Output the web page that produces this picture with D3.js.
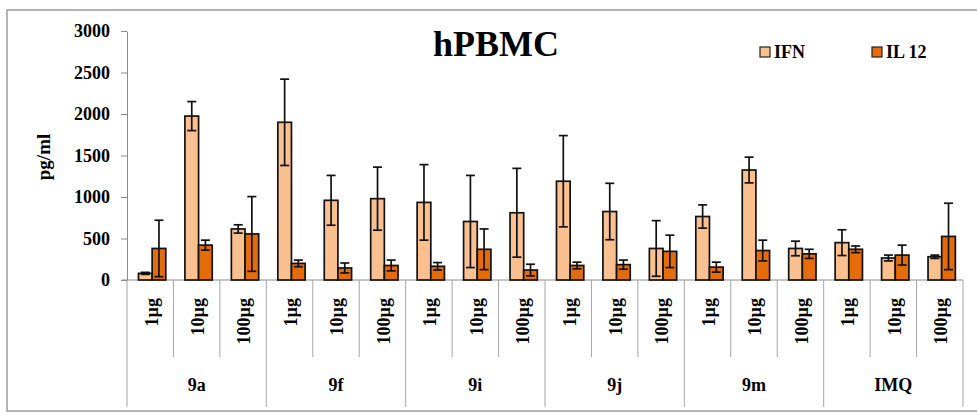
<!DOCTYPE html>
<html>
<head>
<meta charset="utf-8">
<script src="https://cdn.jsdelivr.net/npm/d3@7"></script>
<style>
  body { margin: 0; background: #fff; }
  svg { display: block; }
  text { font-family: 'Liberation Serif', 'Times New Roman', serif; font-weight: bold; fill: #000; }
</style>
</head>
<body>
<div class="graphic_container"></div>
<script>
// data
const groups = ['9a', '9f', '9i', '9j', '9m', 'IMQ'];
const doses = ['1µg', '10µg', '100µg'];
const seriesNames = ['IFN', 'IL 12'];
const seriesColors = ['#fac090', '#e46c0a'];

// one value per group x dose, in order
const ifnValues  = [80, 1975, 615,  1900, 960, 980,  935, 705, 810,  1190, 825, 380,  765, 1325, 380,  450, 265, 280];
const ifnErrors  = [12, 175, 50,    520, 300, 380,   455, 555, 535,  550, 340, 335,   140, 155, 88,    155, 35, 20];
const il12Values = [380, 420, 555,  200, 145, 175,   165, 370, 120,  175, 185, 345,   155, 355, 315,   370, 300, 525];
const il12Errors = [340, 60, 450,   40, 60, 65,      45, 245, 70,    40, 55, 195,     60, 125, 55,     40, 120, 400];

const yTicks = [0, 500, 1000, 1500, 2000, 2500, 3000];

const width = 977, height = 416;

const svg = d3.select('.graphic_container')
  .append('svg')
  .attr('width', width)
  .attr('height', height);

//outer frame
svg.append('rect')
  .attr('x', 7)
  .attr('y', 10)
  .attr('width', 985)
  .attr('height', 401)
  .attr('fill', 'none')
  .attr('stroke', '#9a9a9a')
  .attr('stroke-width', 1.5);

const plot = {left: 127, right: 963, top: 31, bottom: 280};

const categories = [];
groups.forEach(g => doses.forEach(d => categories.push({group: g, dose: d, key: g + '|' + d})));

const rows = categories.map((c, i) => ({
  key: c.key,
  values: [
    {name: seriesNames[0], value: ifnValues[i], err: ifnErrors[i]},
    {name: seriesNames[1], value: il12Values[i], err: il12Errors[i]}
  ]
}));

const x0 = d3.scaleBand()
  .domain(categories.map(c => c.key))
  .range([plot.left, plot.right])
  .padding(0);

const x1 = d3.scaleBand()
  .domain(seriesNames)
  .range([0, x0.bandwidth()])
  .paddingInner(0)
  .paddingOuter(0.7)
  .align(0.6);

const y = d3.scaleLinear()
  .domain([0, 3000])
  .range([plot.bottom, plot.top]);

const color = d3.scaleOrdinal().domain(seriesNames).range(seriesColors);

//y axis
const yAxis = svg.append('g')
  .attr('transform', `translate(${plot.left},0)`)
  .call(d3.axisLeft(y)
    .tickValues(yTicks)
    .tickFormat(d3.format('d'))
    .tickSize(6)
    .tickSizeOuter(0)
    .tickPadding(11));

yAxis.select('.domain').attr('stroke', '#8c8c8c');
yAxis.selectAll('.tick line').attr('stroke', '#8c8c8c');
yAxis.selectAll('.tick text')
  .style('font-family', `'Liberation Serif', serif`)
  .style('font-weight', 'bold')
  .style('font-size', '18px')
  .attr('fill', '#000');

svg.append('text')
  .attr('transform', 'translate(50,157) rotate(-90)')
  .attr('text-anchor', 'middle')
  .style('font-size', '19px')
  .text('pg/ml');

//category axis: baseline and separators
const axisG = svg.append('g').attr('class', 'catAxis');

axisG.append('line')
  .attr('x1', plot.left - 5)
  .attr('x2', plot.right)
  .attr('y1', plot.bottom)
  .attr('y2', plot.bottom)
  .attr('stroke', '#8c8c8c');

categories.forEach((c, i) => {
  const xEdge = x0(c.key) + x0.bandwidth();
  const isGroupEnd = (i + 1) % doses.length === 0;
  axisG.append('line')
    .attr('x1', xEdge)
    .attr('x2', xEdge)
    .attr('y1', plot.bottom)
    .attr('y2', isGroupEnd ? 407 : 357)
    .attr('stroke', '#a6a6a6');
});

axisG.append('line')
  .attr('x1', plot.left)
  .attr('x2', plot.left)
  .attr('y1', plot.bottom)
  .attr('y2', 407)
  .attr('stroke', '#a6a6a6');

//dose labels, rotated
axisG.selectAll('.doseLabel')
  .data(categories)
  .enter()
  .append('text')
  .attr('class', 'doseLabel')
  .attr('transform', d => `translate(${x0(d.key) + x0.bandwidth() / 2 + 1},298) rotate(-90)`)
  .attr('text-anchor', 'end')
  .attr('dy', '0.35em')
  .style('font-size', '18px')
  .text(d => d.dose);

//group labels
axisG.selectAll('.groupLabel')
  .data(groups)
  .enter()
  .append('text')
  .attr('class', 'groupLabel')
  .attr('x', g => {
    const first = x0(g + '|' + doses[0]);
    const last = x0(g + '|' + doses[doses.length - 1]) + x0.bandwidth();
    return (first + last) / 2;
  })
  .attr('y', 391)
  .attr('text-anchor', 'middle')
  .style('font-size', '18px')
  .text(g => g);

//bars
const catG = svg.append('g')
  .selectAll('g')
  .data(rows)
  .enter()
  .append('g')
  .attr('transform', d => `translate(${x0(d.key)},0)`);

catG.selectAll('rect')
  .data(d => d.values)
  .enter()
  .append('rect')
  .attr('x', d => x1(d.name))
  .attr('y', d => y(d.value))
  .attr('width', x1.bandwidth())
  .attr('height', d => y(0) - y(d.value))
  .attr('fill', d => color(d.name))
  .attr('stroke', '#111')
  .attr('stroke-width', 1.7);

//error bars
const capHalf = 4.5;
const errG = catG.selectAll('.err')
  .data(d => d.values)
  .enter()
  .append('g')
  .attr('class', 'err')
  .attr('stroke', '#111')
  .attr('stroke-width', 1.7);

errG.append('line')
  .attr('x1', d => x1(d.name) + x1.bandwidth() / 2)
  .attr('x2', d => x1(d.name) + x1.bandwidth() / 2)
  .attr('y1', d => y(d.value + d.err))
  .attr('y2', d => y(Math.max(0, d.value - d.err)));

errG.append('line')
  .attr('x1', d => x1(d.name) + x1.bandwidth() / 2 - capHalf)
  .attr('x2', d => x1(d.name) + x1.bandwidth() / 2 + capHalf)
  .attr('y1', d => y(d.value + d.err))
  .attr('y2', d => y(d.value + d.err));

errG.append('line')
  .attr('x1', d => x1(d.name) + x1.bandwidth() / 2 - capHalf)
  .attr('x2', d => x1(d.name) + x1.bandwidth() / 2 + capHalf)
  .attr('y1', d => y(Math.max(0, d.value - d.err)))
  .attr('y2', d => y(Math.max(0, d.value - d.err)));

//title
svg.append('text')
  .attr('x', 433)
  .attr('y', 56)
  .style('font-size', '36px')
  .text('hPBMC');

//legend
const legendX = [760, 872];
const legend = svg.append('g')
  .selectAll('g')
  .data(seriesNames)
  .enter()
  .append('g')
  .attr('transform', (d, i) => `translate(${legendX[i]},47)`);

legend.append('rect')
  .attr('width', 10)
  .attr('height', 10)
  .attr('fill', d => color(d))
  .attr('stroke', '#222')
  .attr('stroke-width', 1.2);

legend.append('text')
  .attr('x', 14)
  .attr('y', 10.5)
  .style('font-size', '18px')
  .text(d => d);
</script>
</body>
</html>
